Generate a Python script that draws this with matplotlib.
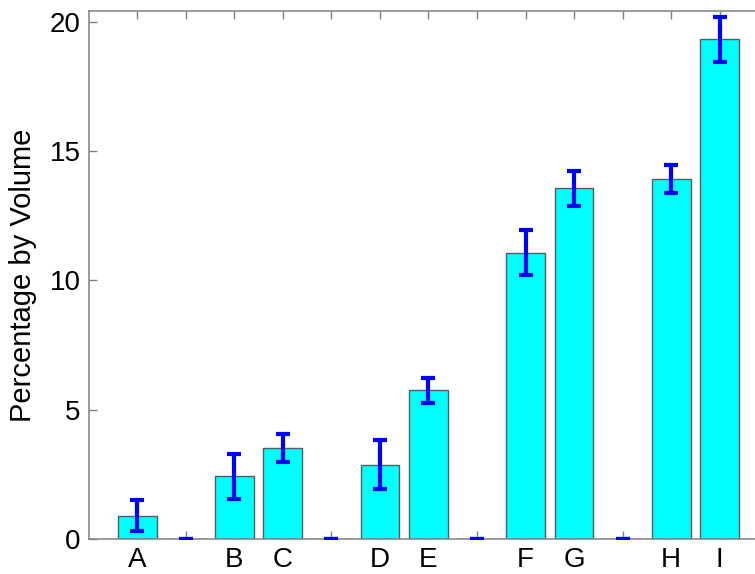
import numpy as np
import matplotlib.pyplot as plt

plt.rcParams['font.family'] = ['Liberation Sans', 'DejaVu Sans']

# bar data (empty slots between the groups have zero height)
labels = ['A', '', 'B', 'C', '', 'D', 'E', '', 'F', 'G', '', 'H', 'I']
values = [0.89, 0, 2.43, 3.52, 0, 2.87, 5.75, 0, 11.07, 13.56, 0, 13.93, 19.32]
errors = [0.60, 0, 0.87, 0.55, 0, 0.95, 0.48, 0, 0.86, 0.68, 0, 0.54, 0.87]

x = np.arange(1, len(values) + 1)

fig = plt.figure(figsize=(7.55, 5.74), dpi=100)
ax = fig.add_axes([0.1175, 0.061, 0.900, 0.919])

ax.bar(x, values, width=0.8, color='#00FFFF', edgecolor='#5a5a5a', linewidth=1.0, zorder=2)
ax.errorbar(x, values, yerr=errors, fmt='none', ecolor='#0000FF',
            elinewidth=3.0, capsize=4.8, capthick=3.0, zorder=3)

ax.set_xlim(0, 14)
ax.set_ylim(0, 20.39)
ax.set_xticks(x)
ax.set_xticklabels(labels)
ax.set_yticks([0, 5, 10, 15, 20])

ax.tick_params(axis='both', direction='in', length=5.5, width=1.0, color='#808080',
               labelsize=20, top=True, right=True)
ax.tick_params(axis='x', pad=6)
ax.tick_params(axis='y', pad=6)
for s in ax.spines.values():
    s.set_color('#808080')
    s.set_linewidth(1.1)

ax.set_ylabel('Percentage by Volume', fontsize=21, labelpad=9)

fig.savefig('out.png', dpi=100)
